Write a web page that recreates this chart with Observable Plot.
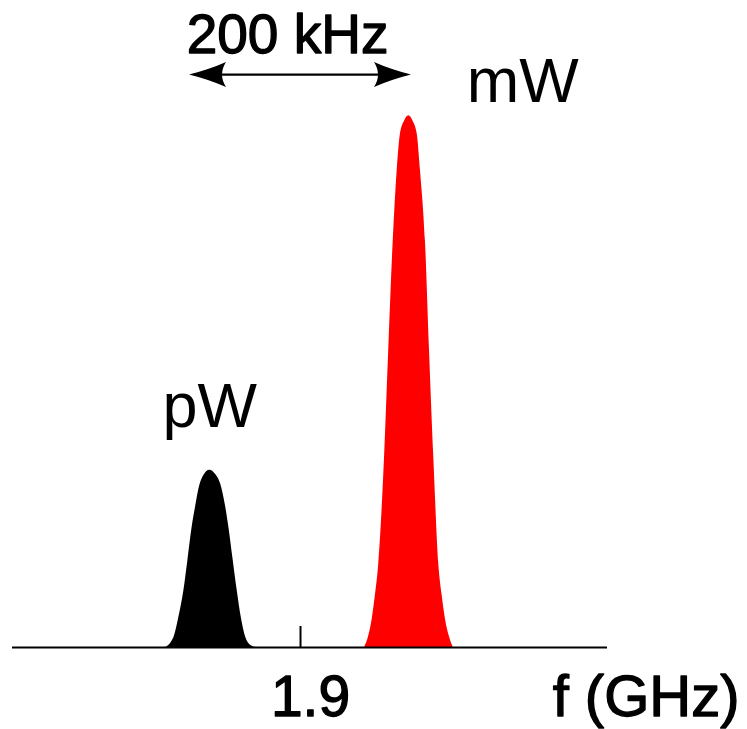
<!DOCTYPE html>
<html><head><meta charset="utf-8">
<script src="https://cdn.jsdelivr.net/npm/d3@7"></script>
<script src="https://cdn.jsdelivr.net/npm/@observablehq/plot@0.6"></script>
<style>
  html,body{margin:0;padding:0;background:#fff;}
  #chart svg{display:block;}
</style>
</head><body><div id="chart"></div>
<script>
// Frequency offsets in kHz from 1.9 GHz
const weakFreq  = [-121.6,-117.1,-113.5,-109.6,-105.1,-101.5,-97.6,-94.6,-90.7,-87.1,-81.7,-76.6,-72.1,-67.6,-64.6,-60.6,-57.0,-53.4,-50.2,-46.6,-40.5];
const weakPower = [0,0.023,0.066,0.17,0.32,0.49,0.68,0.79,0.915,0.97,1.0,0.977,0.925,0.80,0.68,0.49,0.32,0.17,0.075,0.023,0];
const strongFreq  = [57.7,61.3,64.6,67.6,70.5,75.7,79.5,83.5,87.1,90.1,93.7,97.6,101.4,105.1,108.1,112.6,116.2,120.1,124.6,127.5,130.6,134.2,137.6];
const strongPower = [0,0.06,0.16,0.3,0.47,1.07,1.68,2.29,2.69,2.9,2.97,3.0,2.97,2.9,2.69,2.29,1.68,1.07,0.47,0.3,0.16,0.06,0];
const peakNames = ["pW", "mW"];
const tickValues = [0];
const tickLabels = ["1.9"];
const axisLabel = "f (GHz)";
const spanFrom = -100, spanTo = 100, spanLevel = 3.23;
const spanLabel = "200 kHz";

const weak = weakFreq.map((f, i) => ({f, p: weakPower[i]}));
const strong = strongFreq.map((f, i) => ({f, p: strongPower[i]}));
const weakPeak = weak[d3.maxIndex(weak, d => d.p)];
const strongPeak = strong[d3.maxIndex(strong, d => d.p)];

const W = 747, H = 729;
const FONT = "'Liberation Sans', Arial, Helvetica, sans-serif";
const heavy = {stroke: "black", strokeWidth: 1.3, fill: "black"};

function doubleArrow(index, scales) {
  const g = d3.create("svg:g");
  const x1 = scales.x(spanFrom), x2 = scales.x(spanTo), y = scales.y(spanLevel);
  g.append("line").attr("x1", x1 + 20).attr("x2", x2 - 20).attr("y1", y).attr("y2", y)
    .attr("stroke", "black").attr("stroke-width", 2.2);
  const head = "M0,0 Q20,-5 37,-12.5 Q29,0 37,12.5 Q20,5 0,0Z";
  g.append("path").attr("d", head).attr("fill", "black").attr("transform", `translate(${x1},${y})`);
  g.append("path").attr("d", head).attr("fill", "black").attr("transform", `translate(${x2},${y}) scale(-1,1)`);
  return g.node();
}

const chart = Plot.plot({
  width: W, height: H,
  marginLeft: 12, marginRight: 140, marginTop: 9, marginBottom: 82,
  style: {fontFamily: FONT, background: "#fff", color: "black"},
  x: {domain: [-259.5, 276.6], label: null, axis: null},
  y: {domain: [0, 3.6], axis: null},
  marks: [
    Plot.areaY(weak, {x: "f", y: "p", fill: "black", curve: "monotone-x"}),
    Plot.areaY(strong, {x: "f", y: "p", fill: "#ff0000", curve: "monotone-x"}),
    Plot.ruleY([0], {stroke: "black", strokeWidth: 2}),
    Plot.ruleX(tickValues, {x: d => d, stroke: "black", strokeWidth: 2, insetTop: H - 82 - 9 - 21}),
    Plot.text(tickValues, {x: d => d, frameAnchor: "bottom", text: d => tickLabels[tickValues.indexOf(d)],
      lineAnchor: "bottom", dy: 68, dx: 10, fontSize: 57, ...heavy}),
    Plot.text([axisLabel], {frameAnchor: "bottom-right", text: d => d, textAnchor: "end", lineAnchor: "bottom",
      dx: 132, dy: 68, fontSize: 58, ...heavy}),
    Plot.text([weakPeak], {x: "f", y: "p", text: () => peakNames[0], lineAnchor: "bottom", dy: -43, fontSize: 63}),
    Plot.text([strongPeak], {x: "f", y: "p", text: () => peakNames[1], lineAnchor: "bottom", dx: 114, dy: -14, fontSize: 63}),
    Plot.text([spanLabel], {x: () => (spanFrom + spanTo) / 2, y: () => spanLevel, text: d => d, lineAnchor: "bottom",
      dx: -13, dy: -22, fontSize: 55, ...heavy}),
    doubleArrow
  ]
});
document.getElementById("chart").append(chart);
</script>
</body></html>
